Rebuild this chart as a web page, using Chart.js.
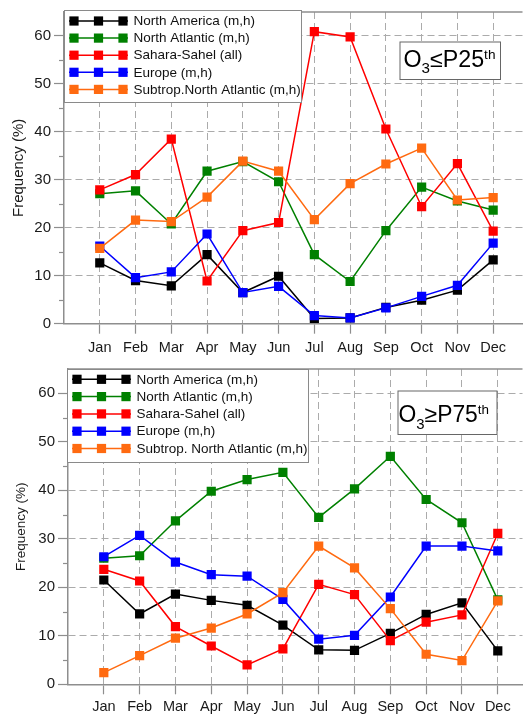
<!DOCTYPE html>
<html><head><meta charset="utf-8">
<script src="https://cdn.jsdelivr.net/npm/chart.js@4/dist/chart.umd.min.js"></script>
<style>
html,body{margin:0;padding:0;background:#fff;overflow:hidden;width:529px;height:715px}
.wrap{position:absolute;left:0;width:529px}
#w1{top:0;height:357px}
#w2{top:357px;height:358px}
</style></head><body>
<div class="wrap" id="w1"><canvas id="c1"></canvas></div>
<div class="wrap" id="w2"><canvas id="c2"></canvas></div>
<script>
const months = ['Jan','Feb','Mar','Apr','May','Jun','Jul','Aug','Sep','Oct','Nov','Dec'];
const seriesLabelsTop = ['North America (m,h)','North Atlantic (m,h)','Sahara-Sahel (all)','Europe (m,h)','Subtrop.North Atlantic (m,h)'];
const seriesLabelsBottom = ['North America (m,h)','North Atlantic (m,h)','Sahara-Sahel (all)','Europe (m,h)','Subtrop. North Atlantic (m,h)'];
const seriesColors = ['#000000','#008000','#ff0000','#0000ff','#ff6a10'];
const yTickValues = [0,10,20,30,40,50,60];
const yMinorTickValues = [5,15,25,35,45,55];
const yAxisTitle = 'Frequency (%)';

// O3 <= P25th
const p25NorthAmerica  = [12.7, 9.0, 7.9, 14.4, 6.5, 9.9, 1.1, 1.2, 3.4, 4.9, 7.0, 13.3];
const p25NorthAtlantic = [27.1, 27.7, 20.8, 31.8, 33.8, 29.6, 14.4, 8.8, 19.4, 28.5, 25.6, 23.7];
const p25SaharaSahel   = [27.9, 31.1, 38.5, 8.9, 19.4, 21.1, 60.9, 59.8, 40.6, 24.4, 33.4, 19.3];
const p25Europe        = [16.2, 9.6, 10.8, 18.7, 6.5, 7.8, 1.7, 1.2, 3.3, 5.7, 8.0, 16.8];
const p25Subtrop       = [15.7, 21.6, 21.3, 26.4, 33.9, 31.8, 21.7, 29.2, 33.3, 36.6, 25.8, 26.3];

// O3 >= P75th
const p75NorthAmerica  = [21.5, 14.5, 18.6, 17.3, 16.3, 12.2, 7.1, 7.0, 10.5, 14.4, 16.8, 6.9];
const p75NorthAtlantic = [26.0, 26.5, 33.7, 39.8, 42.2, 43.7, 34.4, 40.3, 47.0, 38.1, 33.3, 17.4];
const p75SaharaSahel   = [23.7, 21.3, 11.9, 7.9, 4.0, 7.3, 20.6, 18.5, 9.0, 12.8, 14.3, 31.1];
const p75Europe        = [26.3, 30.7, 25.2, 22.6, 22.3, 17.5, 9.3, 10.1, 18.0, 28.5, 28.5, 27.5];
const p75Subtrop       = [2.4, 5.9, 9.5, 11.6, 14.5, 18.9, 28.5, 24.0, 15.6, 6.2, 4.9, 17.2];

const FONT = '"Liberation Sans", Arial, sans-serif';
const AXIS = '#8e8e8e';
const GRID = '#ababab';

function makeDatasets(seriesList, labels) {
  return seriesList.map((vals, k) => ({
    label: labels[k],
    data: months.map((m, i) => ({x: i + 1, y: vals[i]})),
    borderColor: seriesColors[k],
    backgroundColor: seriesColors[k],
    borderWidth: 1.5,
    pointStyle: 'rect',
    pointRadius: 6.5,
    pointBorderWidth: 0,
    pointBackgroundColor: seriesColors[k],
    order: 5 - k,
    tension: 0
  }));
}

const framePlugin = {
  id: 'frame',
  afterDraw(chart) {
    const o = chart.options.plugins.frame;
    const ctx = chart.ctx, ca = chart.chartArea, y = chart.scales.y;
    ctx.save();
    // top border
    ctx.strokeStyle = AXIS; ctx.lineWidth = 1.5;
    ctx.beginPath(); ctx.moveTo(ca.left, ca.top); ctx.lineTo(ca.right, ca.top); ctx.stroke();
    // minor ticks
    ctx.lineWidth = 1.2;
    yMinorTickValues.forEach(v => {
      const py = Math.round(y.getPixelForValue(v)) + 0.5;
      ctx.beginPath(); ctx.moveTo(ca.left - 5, py); ctx.lineTo(ca.left, py); ctx.stroke();
    });
    // legend
    const L = o.legend;
    ctx.fillStyle = '#fff';
    ctx.fillRect(L.x, L.y, L.w, L.h);
    ctx.strokeStyle = '#8a8a8a'; ctx.lineWidth = 1;
    ctx.strokeRect(L.x + 0.5, L.y + 0.5, L.w, L.h);
    o.labels.forEach((lab, k) => {
      const ry = L.y + L.first + k * L.step;
      const c = seriesColors[k];
      ctx.strokeStyle = c; ctx.fillStyle = c; ctx.lineWidth = 1.5;
      ctx.beginPath(); ctx.moveTo(L.x + 5, ry); ctx.lineTo(L.x + 64, ry); ctx.stroke();
      [10, 34.5, 59].forEach(dx => ctx.fillRect(L.x + dx - 4.6, ry - 4.6, 9.2, 9.2));
      ctx.fillStyle = '#111';
      ctx.font = '13.5px ' + FONT;
      ctx.textBaseline = 'middle'; ctx.textAlign = 'left';
      ctx.fillText(lab, L.x + 69.5, ry + 0.5);
    });
    // badge
    const B = o.badge;
    ctx.fillStyle = '#fff';
    ctx.fillRect(B.x, B.y, B.w, B.h);
    ctx.strokeStyle = '#666'; ctx.lineWidth = 1;
    ctx.strokeRect(B.x + 0.5, B.y + 0.5, B.w, B.h);
    const big = '23px ' + FONT, sub = '15px ' + FONT, sup = '13.5px ' + FONT;
    const parts = [['O', big, 0], ['3', sub, 6.5], [B.sym, big, 0], ['P' + B.num, big, 0], ['th', sup, -8]];
    let total = 0;
    parts.forEach(p => { ctx.font = p[1]; total += ctx.measureText(p[0]).width; });
    const sx = (B.tr - B.tl) / total;
    ctx.translate(B.tl, B.base);
    ctx.scale(sx, 1);
    ctx.fillStyle = '#000'; ctx.textBaseline = 'alphabetic'; ctx.textAlign = 'left';
    let px = 0;
    parts.forEach(p => { ctx.font = p[1]; ctx.fillText(p[0], px, p[2]); px += ctx.measureText(p[0]).width; });
    ctx.restore();
  }
};

function makeChart(id, seriesList, labels, cfg) {
  return new Chart(document.getElementById(id), {
    type: 'line',
    data: { datasets: makeDatasets(seriesList, labels) },
    plugins: [framePlugin],
    options: {
      responsive: true,
      maintainAspectRatio: false,
      animation: false,
      events: [],
      layout: { padding: { top: cfg.padTop, right: 0, left: 0, bottom: 0 } },
      plugins: {
        legend: { display: false },
        tooltip: { enabled: false },
        frame: { labels: labels, legend: cfg.legend, badge: cfg.badge }
      },
      scales: {
        x: {
          type: 'linear',
          min: 0, max: cfg.xMax,
          afterBuildTicks: s => { s.ticks = months.map((m, i) => ({ value: i + 1 })); },
          afterFit: s => { s.height = cfg.xHeight; },
          ticks: {
            callback: v => months[v - 1] || '',
            font: { family: FONT, size: 14.5 },
            color: '#1a1a1a',
            padding: cfg.xPad,
            maxRotation: 0,
            autoSkip: false
          },
          grid: { color: GRID, lineWidth: 1, tickColor: AXIS, tickLength: 10, tickWidth: 1.2, tickBorderDash: [] },
          border: { display: true, color: AXIS, width: 1.5, dash: [7, 4] }
        },
        y: {
          type: 'linear',
          min: 0, max: 65,
          afterBuildTicks: s => { s.ticks = yTickValues.map(v => ({ value: v })); },
          afterFit: s => { s.width = cfg.yWidth; },
          ticks: {
            callback: v => String(v),
            font: { family: FONT, size: 15 },
            color: '#1a1a1a',
            padding: 3
          },
          title: {
            display: true, text: yAxisTitle,
            font: { family: FONT, size: cfg.titleSize },
            color: '#1a1a1a',
            padding: { top: cfg.titlePad, bottom: 0 }
          },
          grid: {
            color: c => (c.tick && c.tick.value === 0) ? 'rgba(0,0,0,0)' : GRID,
            lineWidth: 1, tickColor: AXIS, tickLength: 10, tickWidth: 1.2, tickBorderDash: []
          },
          border: { display: true, color: AXIS, width: 1.5, dash: [7, 4] }
        }
      }
    }
  });
}

makeChart('c1', [p25NorthAmerica, p25NorthAtlantic, p25SaharaSahel, p25Europe, p25Subtrop], seriesLabelsTop, {
  padTop: 10, xMax: 12.82, xHeight: 33.3, xPad: 6, yWidth: 64, titleSize: 15, titlePad: 10,
  legend: { x: 64, y: 10, w: 237, h: 92, first: 11, step: 17.1 },
  badge: { x: 399.5, y: 41.5, w: 100.5, h: 37.5, sym: '\u2264', num: '25', tl: 403.5, tr: 495.5, base: 66.5 }
});

makeChart('c2', [p75NorthAmerica, p75NorthAtlantic, p75SaharaSahel, p75Europe, p75Subtrop], seriesLabelsBottom, {
  padTop: 12, xMax: 12.69, xHeight: 30.7, xPad: 3.5, yWidth: 68, titleSize: 13.5, titlePad: 13,
  legend: { x: 67, y: 12, w: 241, h: 93, first: 10.3, step: 17.3 },
  badge: { x: 397.5, y: 33.5, w: 99, h: 43.5, sym: '\u2265', num: '75', tl: 398.5, tr: 489, base: 65 }
});
</script>
</body></html>
